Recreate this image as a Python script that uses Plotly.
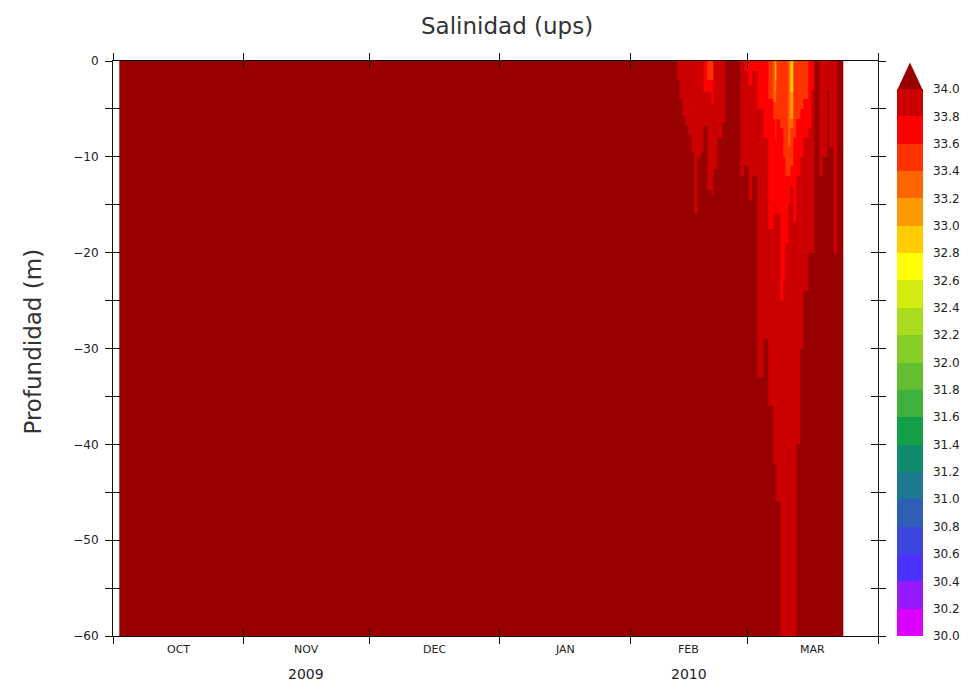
import numpy as np
import pandas as pd
import plotly.graph_objects as go

# ---------------- data ----------------
START = pd.Timestamp("2009-10-01")
END = pd.Timestamp("2010-04-01")

# column edges (days since 2009-10-01)
col_edges_days = [1.5, 134.2, 134.7, 135.4, 136.1, 136.8, 137.5, 138.2, 138.9, 139.7,
                  140.4, 141.3, 142.3, 142.8, 143.7, 144.9, 145.6, 149.2, 150.1, 151.1,
                  152.0, 153.2, 154.7, 155.8, 157.0, 157.5, 157.9, 158.7, 159.4, 159.9,
                  160.6, 161.1, 161.8, 162.5, 163.5, 164.2, 165.4, 166.1, 166.8, 168.0,
                  168.7, 169.9, 170.3, 171.3, 172.2, 173.75]

# depth (m) down to which salinity stays below each isohaline, per column
iso_340 = [0, 1.9, 4.0, 5.8, 6.8, 7.8, 9.5, 16.0, 9.9, 9.4,
           6.8, 13.6, 14.0, 11.3, 8.1, 6.5, 0, 12, 11, 14.6,
           12, 33, 29, 36, 42, 42, 46, 60, 60, 60,
           60, 60, 60, 40, 30, 24, 20, 20, 0, 12,
           10, 3, 9, 20, 0]
iso_338 = [0, 0, 0, 0, 0, 0, 0, 0, 0, 0,
           3.2, 3.2, 4.5, 0, 0, 0, 0, 0, 1, 2.5,
           1, 5, 8, 17.4, 16, 15, 16, 25, 23, 19,
           15, 13, 16.7, 12, 10, 8, 7, 3, 0, 0,
           0, 0, 0, 0, 0]
iso_336 = [0, 0, 0, 0, 0, 0, 0, 0, 0, 0,
           0, 2.1, 2.0, 0, 0, 0, 0, 0, 0, 0,
           0, 0, 0, 4, 6, 8, 6, 7, 10, 12,
           12, 11, 8, 6, 5, 4, 0, 0, 0, 0,
           0, 0, 0, 0, 0]
iso_334 = [0, 0, 0, 0, 0, 0, 0, 0, 0, 0,
           0, 0, 0, 0, 0, 0, 0, 0, 0, 0,
           0, 0, 0, 0, 4.3, 4.3, 0, 0, 0, 0,
           9, 7.1, 0, 0, 0, 0, 0, 0, 0, 0,
           0, 0, 0, 0, 0]
iso_332 = [0, 0, 0, 0, 0, 0, 0, 0, 0, 0,
           0, 0, 0, 0, 0, 0, 0, 0, 0, 0,
           0, 0, 0, 0, 0, 2.9, 0, 0, 0, 0,
           0, 6.0, 0, 0, 0, 0, 0, 0, 0, 0,
           0, 0, 0, 0, 0]
iso_330 = [0, 0, 0, 0, 0, 0, 0, 0, 0, 0,
           0, 0, 0, 0, 0, 0, 0, 0, 0, 0,
           0, 0, 0, 0, 0, 2.0, 0, 0, 0, 0,
           0, 3.2, 0, 0, 0, 0, 0, 0, 0, 0,
           0, 0, 0, 0, 0]

iso_levels = [iso_340, iso_338, iso_336, iso_334, iso_332, iso_330]
iso_class_values = [33.9, 33.7, 33.5, 33.3, 33.1, 32.9]
background_value = 34.1

# colour levels
bin_edges = [round(30.0 + 0.2 * i, 1) for i in range(21)]
bin_colors = ["#dc00ff", "#9619ff", "#4b32ff", "#3c46dc", "#2d5fb4",
              "#1e7890", "#0f8c6e", "#14a046", "#40b03c", "#64be32",
              "#86cd28", "#aadc1e", "#d4eb0f", "#ffff00", "#ffcc00",
              "#ff9900", "#ff6600", "#ff3300", "#ff0000", "#cc0000"]
extend_color = "#990000"

months = ["OCT", "NOV", "DEC", "JAN", "FEB", "MAR"]
month_starts = ["2009-10-01", "2009-11-01", "2009-12-01", "2010-01-01",
                "2010-02-01", "2010-03-01", "2010-04-01"]
years = ["2009", "2010"]
depth_ticks = list(range(0, -65, -5))

# ---------------- grid ----------------
dz = 0.25
depth_edges = np.arange(0, 60 + dz / 2, dz)
depth_centers = 0.5 * (depth_edges[:-1] + depth_edges[1:])
ncol = len(col_edges_days) - 1
z = np.full((len(depth_centers), ncol), background_value)
for iso, val in zip(iso_levels, iso_class_values):
    for j, d in enumerate(iso):
        z[depth_centers < d, j] = val

x_edges = [(START + pd.Timedelta(days=d)).strftime("%Y-%m-%d %H:%M:%S") for d in col_edges_days]
y_edges = (-depth_edges).tolist()


def discrete_scale(colors):
    n = len(colors)
    cs = []
    for i, c in enumerate(colors):
        cs.append([i / n, c])
        cs.append([(i + 1) / n, c])
    return cs


main_colors = bin_colors + [extend_color]

fig = go.Figure()
fig.add_trace(go.Heatmap(
    x=x_edges, y=y_edges, z=z,
    colorscale=discrete_scale(main_colors),
    zmin=bin_edges[0], zmax=bin_edges[-1] + 0.2,
    zsmooth=False, showscale=False, hoverinfo="skip"))

# colorbar (separate dummy trace)
W, H = 976, 687
L, R, T, B = 112.5, 878, 60.5, 636.5
pw, ph = R - L, B - T
cb_x0, cb_w = 897, 26
cb_top = 90
fig.add_trace(go.Scatter(
    x=[None], y=[None], mode="markers", xaxis="x2", yaxis="y2",
    showlegend=False, hoverinfo="skip",
    marker=dict(color=[30.0], cmin=bin_edges[0], cmax=bin_edges[-1],
                colorscale=discrete_scale(bin_colors), showscale=True,
                colorbar=dict(
                    x=(cb_x0 - L) / pw, xanchor="left", xpad=0,
                    y=0, yanchor="bottom", ypad=0,
                    lenmode="pixels", len=B - cb_top,
                    thickness=cb_w, outlinewidth=0,
                    tickvals=bin_edges, ticktext=[f"{v:.1f}" for v in bin_edges],
                    ticks="outside", ticklen=8, tickcolor="rgba(0,0,0,0)",
                    tickfont=dict(family="DejaVu Sans", size=12, color="#222")))))

# extend triangle
fig.add_shape(type="path", xref="paper", yref="paper",
              path=(f"M {(cb_x0 - L)/pw} {(B - cb_top)/ph} "
                    f"L {(cb_x0 + cb_w - L)/pw} {(B - cb_top)/ph} "
                    f"L {(cb_x0 + cb_w/2 - L)/pw} {(B - 62)/ph} Z"),
              fillcolor=extend_color, line=dict(width=0))

axis_common = dict(showgrid=False, zeroline=False, ticklen=7, tickwidth=1,
                   tickcolor="#111", mirror="allticks")
fig.update_layout(
    width=W, height=H,
    margin=dict(l=L, r=W - R, t=T, b=H - B, pad=0),
    paper_bgcolor="white", plot_bgcolor="white",
    showlegend=False,
    xaxis=dict(type="date", range=[START, END], tickvals=month_starts,
               ticktext=[""] * len(month_starts), ticks="outside",
               showline=True, linecolor="#111", linewidth=1, **axis_common),
    xaxis2=dict(type="date", range=[START, END], tickvals=month_starts,
                ticktext=[""] * len(month_starts), ticks="inside",
                overlaying="x", anchor="y2", showline=False, **axis_common),
    yaxis=dict(range=[-60, 0], tickvals=depth_ticks,
               ticktext=[(f"\u2212{abs(v)}" if v < 0 else "0") if v % 10 == 0 else "" for v in depth_ticks],
               ticks="outside", showline=True, linecolor="#111", linewidth=1,
               ticklabelstandoff=4,
               tickfont=dict(family="DejaVu Sans", size=12, color="#222"), **axis_common),
    yaxis2=dict(range=[-60, 0], tickvals=depth_ticks, ticktext=[""] * len(depth_ticks),
                ticks="inside", overlaying="y", anchor="x2", showline=False,
                **axis_common),
)

# month and year labels
start_ts = [pd.Timestamp(m) for m in month_starts]
for i, name in enumerate(months):
    mid = start_ts[i] + (start_ts[i + 1] - start_ts[i]) / 2
    fig.add_annotation(x=mid, y=(B - 650) / ph, xref="x", yref="paper", text=name,
                       showarrow=False, yanchor="middle",
                       font=dict(family="DejaVu Sans", size=11, color="#222"))
for k, yr in enumerate(years):
    a, b = start_ts[3 * k], start_ts[3 * k + 3]
    fig.add_annotation(x=a + (b - a) / 2, y=(B - 675) / ph, xref="x", yref="paper", text=yr,
                       showarrow=False, yanchor="middle",
                       font=dict(family="DejaVu Sans", size=14, color="#222"))

fig.add_annotation(x=(507 - L) / pw, y=(B - 25) / ph, xref="paper", yref="paper",
                   text="Salinidad (ups)", showarrow=False, yanchor="middle",
                   font=dict(family="DejaVu Sans", size=23, color="#333"))
fig.add_annotation(x=(32 - L) / pw, y=(B - 342) / ph, xref="paper", yref="paper",
                   text="Profundidad (m)", showarrow=False, textangle=-90,
                   xanchor="center", yanchor="middle",
                   font=dict(family="DejaVu Sans", size=23, color="#333"))

fig.write_html("out.html")
